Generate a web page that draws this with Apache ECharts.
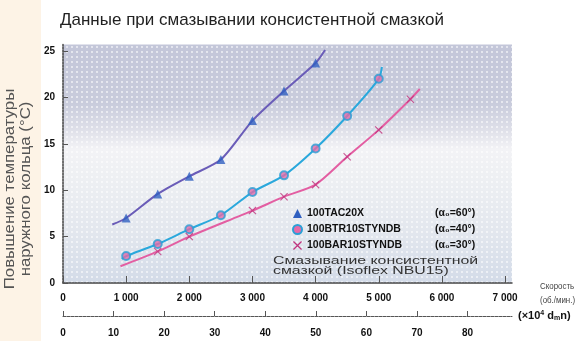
<!DOCTYPE html>
<html>
<head>
<meta charset="utf-8">
<script src="https://cdn.jsdelivr.net/npm/echarts@6/dist/echarts.min.js"></script>
<style>
  html, body { margin: 0; padding: 0; background: #ffffff; }
  #chart { width: 578px; height: 341px; }
</style>
</head>
<body>
<div id="chart"></div>
<script>
// Outer-ring temperature rise vs. speed, grease lubrication
const speedTicks = [0, 1000, 2000, 3000, 4000, 5000, 6000, 7000];
const dmnTicks = [0, 10, 20, 30, 40, 50, 60, 70, 80];
const tempTicks = [0, 5, 10, 15, 20, 25];

const seriesNames = ['100TAC20X', '100BTR10STYNDB', '100BAR10STYNDB'];
const angleNotes = ['(α₀=60°)', '(α₀=40°)', '(α₀=30°)'];

// measured points (speed, rise °C)
const tacSpeed = [1000, 1500, 2000, 2500, 3000, 3500, 4000];
const tacRise = [7.0, 9.6, 11.5, 13.3, 17.5, 20.7, 23.7];
const btrSpeed = [1000, 1500, 2000, 2500, 3000, 3500, 4000, 4500, 5000];
const btrRise = [2.9, 4.2, 5.8, 7.3, 9.8, 11.6, 14.5, 18.0, 22.0];
const barSpeed = [1500, 2000, 3000, 3500, 4000, 4500, 5000, 5500];
const barRise = [3.4, 5.0, 7.8, 9.3, 10.6, 13.6, 16.5, 19.8];

// ends of the trend curves
const tacCurveEnds = [[780, 6.3], [4150, 25.1]];
const btrCurveEnds = [[930, 2.6], [5050, 23.3]];
const barCurveEnds = [[910, 1.8], [5650, 20.9]];

const pairs = (xs, ys) => xs.map((x, i) => [x, ys[i]]);
const curve = (xs, ys, ends) => [ends[0]].concat(pairs(xs, ys), [ends[1]]);

const colors = {
  tacLine: '#6a5cb8', tacMark: '#2f5fc0',
  btrLine: '#2aa8dc', btrMark: '#2a9fd6', btrFill: '#e46aa8',
  barLine: '#e35ea2', barMark: '#c0347e'
};
const crossPath = 'path://M0,1 L1,0 L5,4 L9,0 L10,1 L6,5 L10,9 L9,10 L5,6 L1,10 L0,9 L4,5 Z';

// dotted screen texture for the plot background
function dotPattern() {
  const c = document.createElement('canvas');
  c.width = 5; c.height = 5;
  const g = c.getContext('2d');
  g.fillStyle = 'rgba(255,255,255,0.55)';
  g.fillRect(1, 1, 2, 2);
  return c;
}

const chart = echarts.init(document.getElementById('chart'), null, { renderer: 'canvas' });

const labelFont = { fontFamily: 'Liberation Sans', fontSize: 10, fontWeight: 'bold', color: '#111' };

chart.setOption({
  backgroundColor: '#ffffff',
  animation: false,
  graphic: [
    { type: 'rect', z: -10, shape: { x: 0, y: 0, width: 41, height: 341 }, style: { fill: '#fdf3e6' } },
    {
      type: 'rect', z: -9,
      shape: { x: 63, y: 44.5, width: 449, height: 238.5 },
      style: {
        fill: new echarts.graphic.LinearGradient(0, 0, 0, 1, [
          { offset: 0, color: '#c3c6d9' },
          { offset: 0.25, color: '#c9ccdc' },
          { offset: 0.36, color: '#dfe0e9' },
          { offset: 0.44, color: '#f3f3f6' },
          { offset: 0.55, color: '#eef0f3' },
          { offset: 0.78, color: '#e3e7ee' },
          { offset: 1, color: '#d3dbe8' }
        ])
      }
    },
    {
      type: 'rect', z: -8,
      shape: { x: 63, y: 44.5, width: 449, height: 238.5 },
      style: { fill: { image: dotPattern(), repeat: 'repeat' } }
    },
    {
      type: 'text', left: 60, top: 12,
      style: { text: 'Данные при смазывании консистентной смазкой', fontFamily: 'Liberation Sans', fontSize: 17, fill: '#222' }
    },
    {
      type: 'text', x: 18, y: 189, rotation: Math.PI / 2, scaleX: 1.2,
      style: {
        text: 'Повышение температуры\nнаружного кольца (°C)',
        fontFamily: 'Liberation Sans', fontSize: 14, lineHeight: 16,
        fill: '#555', align: 'center', verticalAlign: 'middle'
      }
    },
    {
      type: 'text', x: 540, y: 294, scaleX: 0.88,
      style: {
        text: 'Скорость\n(об./мин.)', fontFamily: 'Liberation Sans', fontSize: 9, lineHeight: 14,
        fill: '#444', verticalAlign: 'middle'
      }
    },
    {
      type: 'text', x: 273, y: 266, scaleX: 1.44,
      style: {
        text: 'Смазывание консистентной\nсмазкой (Isoflex NBU15)', fontFamily: 'Liberation Sans', fontSize: 11, lineHeight: 10,
        fill: '#333', verticalAlign: 'middle'
      }
    }
  ],
  grid: [
    { left: 63, right: 66, top: 44.5, bottom: 58 },
    { left: 63, right: 66, top: 316, height: 0 }
  ],
  legend: {
    orient: 'vertical', left: 287, top: 203, itemGap: 5,
    itemWidth: 9, itemHeight: 9,
    data: [
      { name: seriesNames[0], icon: 'triangle', itemStyle: { color: colors.tacMark } },
      { name: seriesNames[1], icon: 'circle', itemStyle: { color: colors.btrFill, borderColor: colors.btrMark, borderWidth: 2 } },
      { name: seriesNames[2], icon: crossPath, itemStyle: { color: colors.barMark } }
    ],
    formatter: name => '{a|' + name + '}{b|' + angleNotes[seriesNames.indexOf(name)] + '}',
    textStyle: {
      rich: {
        a: { fontFamily: 'Liberation Sans', fontSize: 10.5, fontWeight: 'bold', color: '#111', width: 128 },
        b: { fontFamily: 'Liberation Sans', fontSize: 10.5, fontWeight: 'bold', color: '#111' }
      }
    }
  },
  xAxis: [
    {
      type: 'value', gridIndex: 0, min: 0, max: 7110, interval: 1000,
      axisLine: { lineStyle: { color: '#444', width: 1.5, type: [2, 1] } },
      axisTick: { inside: true, length: 7, lineStyle: { color: '#555' }, customValues: speedTicks },
      axisLabel: {
        ...labelFont, margin: 10, customValues: speedTicks,
        formatter: v => v === 0 ? '0' : String(v / 1000) + ' 000'
      },
      splitLine: { show: false }
    },
    {
      type: 'value', gridIndex: 1, min: 0, max: 88.8, interval: 10,
      axisLine: { lineStyle: { color: '#555', width: 1, type: [3, 1] } },
      axisTick: { inside: true, length: 5, lineStyle: { color: '#555' }, customValues: dmnTicks },
      axisLabel: { ...labelFont, margin: 12, customValues: dmnTicks },
      splitLine: { show: false },
      name: '(×10{sup|4} d{sub|m}n)', nameLocation: 'end', nameGap: 6,
      nameTextStyle: {
        fontFamily: 'Liberation Sans', fontSize: 11, fontWeight: 'bold', color: '#111',
        verticalAlign: 'middle',
        rich: {
          sup: { fontSize: 7, fontWeight: 'bold', verticalAlign: 'top', color: '#111', padding: [0, 0, 5, 0] },
          sub: { fontSize: 7, fontWeight: 'bold', verticalAlign: 'bottom', color: '#111', padding: [4, 0, 0, 0] }
        }
      }
    }
  ],
  yAxis: [
    {
      type: 'value', gridIndex: 0, min: 0, max: 25.7, interval: 5,
      axisLine: { show: true, lineStyle: { color: '#444', width: 1.5, type: [2, 1] } },
      axisTick: { show: true, inside: true, length: 5, lineStyle: { color: '#555' }, customValues: tempTicks },
      axisLabel: { ...labelFont, margin: 8, customValues: tempTicks },
      splitLine: { show: false }
    },
    { type: 'value', gridIndex: 1, show: false, min: 0, max: 1 }
  ],
  series: [
    {
      name: seriesNames[0], type: 'line', smooth: 0.25, showSymbol: false,
      data: curve(tacSpeed, tacRise, tacCurveEnds),
      lineStyle: { color: colors.tacLine, width: 2 }, z: 2
    },
    {
      name: seriesNames[0], type: 'scatter', data: pairs(tacSpeed, tacRise),
      symbol: 'triangle', symbolSize: 9, itemStyle: { color: colors.tacMark }, z: 3
    },
    {
      name: seriesNames[1], type: 'line', smooth: 0.25, showSymbol: false,
      data: curve(btrSpeed, btrRise, btrCurveEnds),
      lineStyle: { color: colors.btrLine, width: 2 }, z: 2
    },
    {
      name: seriesNames[1], type: 'scatter', data: pairs(btrSpeed, btrRise),
      symbol: 'circle', symbolSize: 8,
      itemStyle: { color: colors.btrFill, borderColor: colors.btrMark, borderWidth: 2 }, z: 3
    },
    {
      name: seriesNames[2], type: 'line', smooth: 0.25, showSymbol: false,
      data: curve(barSpeed, barRise, barCurveEnds),
      lineStyle: { color: colors.barLine, width: 2 }, z: 2
    },
    {
      name: seriesNames[2], type: 'scatter', data: pairs(barSpeed, barRise),
      symbol: crossPath, symbolSize: 8, itemStyle: { color: colors.barMark }, z: 3
    }
  ]
});
</script>
</body>
</html>
